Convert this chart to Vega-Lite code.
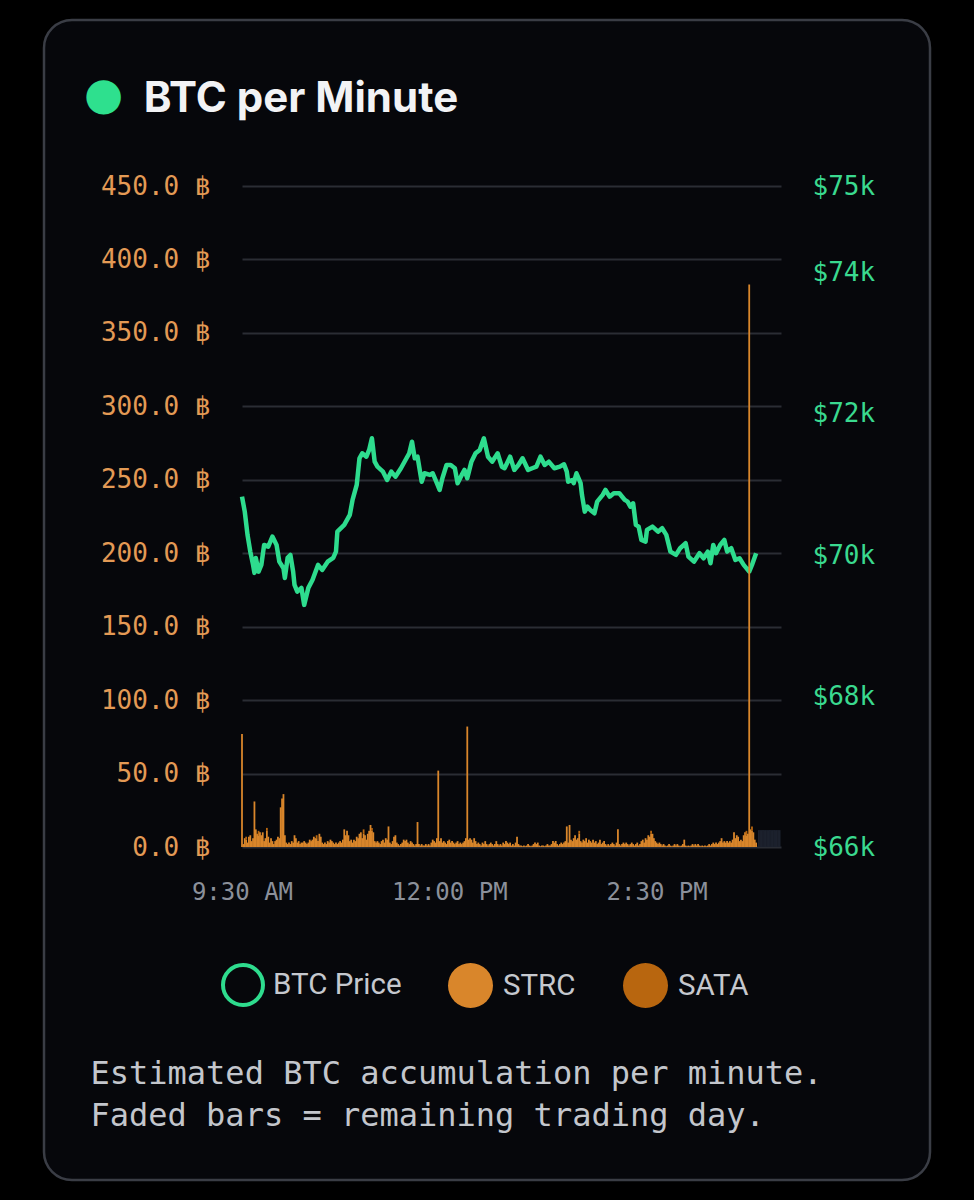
{
  "$schema": "https://vega.github.io/schema/vega-lite/v6.json",
  "width": 886,
  "height": 1160,
  "autosize": {"type": "none"},
  "padding": {"left": 44, "top": 20, "right": 44, "bottom": 20},
  "background": "#000000",
  "title": {
    "text": "●",
    "subtitle": "\u200b\u00a0\u00a0\u00a0\u00a0\u00a0\u00a0BTC per Minute",
    "anchor": "start",
    "frame": "group",
    "offset": -100,
    "dx": 40,
    "font": "DejaVu Sans",
    "fontSize": 45,
    "color": "#2ee08e",
    "subtitleFont": "Inter",
    "subtitleFontSize": 42,
    "subtitleFontWeight": 700,
    "subtitleColor": "#f2f3f5",
    "subtitlePadding": -39
  },
  "datasets": {
    "price": [
      {"m":0,"p":70830},{"m":2,"p":70619},{"m":4,"p":70290},{"m":6,"p":70054},{"m":8,"p":69866},
      {"m":9,"p":69753},{"m":10,"p":69965},{"m":12,"p":69771},{"m":14,"p":69866},{"m":16,"p":70148},
      {"m":19,"p":70124},{"m":22,"p":70266},{"m":25,"p":70148},{"m":27,"p":69912},{"m":30,"p":69819},
      {"m":31,"p":69682},{"m":33,"p":69965},{"m":35,"p":70007},{"m":37,"p":69771},{"m":38,"p":69583},
      {"m":40,"p":69489},{"m":43,"p":69541},{"m":45,"p":69301},{"m":48,"p":69541},{"m":51,"p":69654},
      {"m":55,"p":69866},{"m":58,"p":69795},{"m":62,"p":69912},{"m":66,"p":69965},{"m":68,"p":70054},
      {"m":69,"p":70336},{"m":74,"p":70431},{"m":78,"p":70572},{"m":80,"p":70784},{"m":83,"p":70996},
      {"m":85,"p":71373},{"m":87,"p":71443},{"m":90,"p":71395},{"m":92,"p":71490},{"m":94,"p":71655},
      {"m":96,"p":71325},{"m":98,"p":71254},{"m":102,"p":71184},{"m":105,"p":71066},{"m":108,"p":71184},
      {"m":111,"p":71113},{"m":115,"p":71232},{"m":119,"p":71373},{"m":121,"p":71443},{"m":123,"p":71607},
      {"m":125,"p":71373},{"m":127,"p":71395},{"m":130,"p":71042},{"m":132,"p":71161},{"m":136,"p":71137},
      {"m":138,"p":71161},{"m":141,"p":71020},{"m":143,"p":70925},{"m":145,"p":71090},{"m":148,"p":71278},
      {"m":151,"p":71278},{"m":154,"p":71232},{"m":156,"p":71020},{"m":159,"p":71137},{"m":161,"p":71208},
      {"m":163,"p":71090},{"m":166,"p":71325},{"m":169,"p":71443},{"m":172,"p":71490},{"m":175,"p":71655},
      {"m":178,"p":71395},{"m":181,"p":71325},{"m":185,"p":71443},{"m":188,"p":71254},{"m":190,"p":71232},
      {"m":194,"p":71395},{"m":197,"p":71208},{"m":200,"p":71278},{"m":203,"p":71373},{"m":207,"p":71208},
      {"m":210,"p":71232},{"m":213,"p":71254},{"m":216,"p":71395},{"m":219,"p":71278},{"m":222,"p":71325},
      {"m":226,"p":71232},{"m":230,"p":71254},{"m":233,"p":71288},{"m":235,"p":71184},{"m":236,"p":71042},
      {"m":239,"p":71066},{"m":240,"p":71020},{"m":242,"p":71161},{"m":245,"p":71020},{"m":246,"p":70855},
      {"m":248,"p":70619},{"m":250,"p":70689},{"m":252,"p":70643},{"m":255,"p":70596},{"m":257,"p":70760},
      {"m":261,"p":70855},{"m":263,"p":70925},{"m":266,"p":70830},{"m":269,"p":70878},{"m":273,"p":70878},
      {"m":277,"p":70784},{"m":279,"p":70760},{"m":281,"p":70689},{"m":283,"p":70737},{"m":285,"p":70431},
      {"m":287,"p":70407},{"m":289,"p":70219},{"m":292,"p":70195},{"m":293,"p":70360},{"m":297,"p":70407},
      {"m":301,"p":70336},{"m":304,"p":70384},{"m":307,"p":70290},{"m":310,"p":70054},{"m":314,"p":70007},
      {"m":317,"p":70102},{"m":321,"p":70172},{"m":323,"p":69983},{"m":327,"p":69912},{"m":331,"p":70031},
      {"m":334,"p":69960},{"m":337,"p":70054},{"m":339,"p":69890},{"m":341,"p":70148},{"m":343,"p":70031},
      {"m":346,"p":70148},{"m":349,"p":70219},{"m":351,"p":70054},{"m":354,"p":70102},{"m":357,"p":69936},
      {"m":360,"p":69960},{"m":363,"p":69866},{"m":367,"p":69771},{"m":369,"p":69866},{"m":372,"p":70031}
    ],
    "rest": [
      {"m":374,"v":11.5},{"m":375,"v":11.5},{"m":376,"v":11.5},{"m":377,"v":11.5},{"m":378,"v":11.5},
      {"m":379,"v":11.5},{"m":380,"v":11.5},{"m":381,"v":11.5},{"m":382,"v":11.5},{"m":383,"v":11.5},
      {"m":384,"v":11.5},{"m":385,"v":11.5},{"m":386,"v":11.5},{"m":387,"v":11.5},{"m":388,"v":11.5},
      {"m":389,"v":11.5}
    ],
    "bars": [
      {"m":0,"STRC":77},{"m":1,"STRC":2},{"m":2,"STRC":6},{"m":3,"STRC":5,"SATA":2},{"m":4,"STRC":3},
      {"m":5,"STRC":7},{"m":6,"STRC":8},{"m":7,"STRC":4},{"m":8,"STRC":6},{"m":9,"STRC":31},
      {"m":10,"STRC":12},{"m":11,"STRC":9},{"m":12,"STRC":8,"SATA":3},{"m":13,"STRC":10},{"m":14,"STRC":8},
      {"m":15,"STRC":10},{"m":16,"STRC":4},{"m":17,"STRC":6},{"m":18,"STRC":11,"SATA":2},{"m":19,"STRC":7},
      {"m":20,"STRC":3},{"m":21,"STRC":6},{"m":22,"STRC":4},{"m":23,"STRC":2},{"m":24,"STRC":4},
      {"m":25,"STRC":5},{"m":26,"STRC":7},{"m":27,"STRC":6},{"m":28,"STRC":27},{"m":29,"STRC":33},
      {"m":30,"STRC":36},{"m":31,"STRC":8},{"m":32,"STRC":3},{"m":33,"STRC":2},{"m":34,"STRC":3},
      {"m":35,"STRC":2},{"m":36,"STRC":4},{"m":37,"STRC":3},{"m":38,"STRC":8},{"m":39,"STRC":6},
      {"m":40,"STRC":3},{"m":41,"STRC":4},{"m":42,"STRC":2},{"m":43,"STRC":3},{"m":44,"STRC":3},
      {"m":45,"STRC":4},{"m":46,"STRC":3},{"m":47,"STRC":2},{"m":48,"STRC":3},{"m":49,"STRC":5},
      {"m":50,"STRC":4},{"m":51,"STRC":5},{"m":52,"STRC":7},{"m":53,"STRC":6},{"m":54,"STRC":6,"SATA":2},
      {"m":55,"STRC":4},{"m":56,"STRC":9},{"m":57,"STRC":7},{"m":58,"STRC":3},{"m":59,"STRC":2},
      {"m":60,"STRC":3},{"m":61,"STRC":2},{"m":62,"STRC":4},{"m":63,"STRC":3},{"m":64,"STRC":5},
      {"m":65,"STRC":4},{"m":66,"STRC":3},{"m":67,"STRC":2},{"m":68,"STRC":3},{"m":69,"STRC":2},
      {"m":70,"STRC":3},{"m":71,"STRC":4},{"m":72,"STRC":3},{"m":73,"STRC":5},{"m":74,"STRC":12},
      {"m":75,"STRC":8},{"m":76,"STRC":11},{"m":77,"STRC":8},{"m":78,"STRC":4},{"m":79,"STRC":5},
      {"m":80,"STRC":3},{"m":81,"STRC":5},{"m":82,"STRC":4},{"m":83,"STRC":7},{"m":84,"STRC":6},
      {"m":85,"STRC":9},{"m":86,"STRC":10},{"m":87,"STRC":6},{"m":88,"STRC":9,"SATA":3},{"m":89,"STRC":8},
      {"m":90,"STRC":5},{"m":91,"STRC":9},{"m":92,"STRC":11},{"m":93,"STRC":15},{"m":94,"STRC":11,"SATA":2},
      {"m":95,"STRC":10},{"m":96,"STRC":4},{"m":97,"STRC":3},{"m":98,"STRC":4},{"m":99,"STRC":3},
      {"m":100,"STRC":2},{"m":101,"STRC":4},{"m":102,"STRC":5},{"m":103,"STRC":3},{"m":104,"STRC":6},
      {"m":105,"STRC":5},{"m":106,"STRC":14},{"m":107,"STRC":3},{"m":108,"STRC":2},{"m":109,"STRC":4},
      {"m":110,"STRC":7},{"m":111,"STRC":8},{"m":112,"STRC":3},{"m":113,"STRC":2},{"m":114,"STRC":1},
      {"m":115,"STRC":2},{"m":116,"STRC":3},{"m":117,"STRC":5},{"m":118,"STRC":4},{"m":119,"STRC":5},
      {"m":120,"STRC":3},{"m":121,"STRC":2},{"m":122,"STRC":4},{"m":123,"STRC":3},{"m":124,"STRC":2},
      {"m":125,"STRC":1},{"m":126,"STRC":2},{"m":127,"STRC":17},{"m":128,"STRC":2},{"m":129,"STRC":1},
      {"m":130,"STRC":2},{"m":131,"STRC":1},{"m":132,"STRC":1},{"m":133,"STRC":2},{"m":134,"STRC":1},
      {"m":135,"STRC":2},{"m":136,"STRC":1},{"m":137,"STRC":3},{"m":138,"STRC":5},{"m":139,"STRC":4},
      {"m":140,"STRC":3},{"m":141,"STRC":6},{"m":142,"STRC":52},{"m":143,"STRC":4},{"m":144,"STRC":6},
      {"m":145,"STRC":3},{"m":146,"STRC":4},{"m":147,"STRC":3},{"m":148,"STRC":2},{"m":149,"STRC":4},
      {"m":150,"STRC":5},{"m":151,"STRC":3},{"m":152,"STRC":4},{"m":153,"STRC":3},{"m":154,"STRC":2},
      {"m":155,"STRC":3},{"m":156,"STRC":4},{"m":157,"STRC":2},{"m":158,"STRC":3},{"m":159,"STRC":2},
      {"m":160,"STRC":3},{"m":161,"STRC":4},{"m":162,"STRC":6},{"m":163,"STRC":82},{"m":164,"STRC":5},
      {"m":165,"STRC":6},{"m":166,"STRC":5},{"m":167,"STRC":3},{"m":168,"STRC":6},{"m":169,"STRC":4},
      {"m":170,"STRC":2},{"m":171,"STRC":3},{"m":172,"STRC":2},{"m":173,"STRC":1},{"m":174,"STRC":3},
      {"m":175,"STRC":2},{"m":176,"STRC":4},{"m":177,"STRC":2},{"m":178,"STRC":1},{"m":179,"STRC":2},
      {"m":180,"STRC":3},{"m":181,"STRC":2},{"m":182,"STRC":1},{"m":183,"STRC":2},{"m":184,"STRC":4},
      {"m":185,"STRC":2},{"m":186,"STRC":1},{"m":187,"STRC":2},{"m":188,"STRC":1},{"m":189,"STRC":3},
      {"m":190,"STRC":2},{"m":191,"STRC":4},{"m":192,"STRC":3},{"m":193,"STRC":2},{"m":194,"STRC":3},
      {"m":195,"STRC":1},{"m":196,"STRC":2},{"m":197,"STRC":1},{"m":198,"STRC":3},{"m":199,"STRC":7},
      {"m":200,"STRC":2},{"m":201,"STRC":1},{"m":202,"STRC":1},{"m":203,"STRC":0.5},{"m":204,"STRC":1},
      {"m":205,"STRC":0.5},{"m":206,"STRC":1},{"m":207,"STRC":2},{"m":208,"STRC":1},{"m":209,"STRC":0.5},
      {"m":210,"STRC":1},{"m":211,"STRC":2},{"m":212,"STRC":3},{"m":213,"STRC":2},{"m":214,"STRC":3},
      {"m":215,"STRC":1},{"m":216,"STRC":0.5},{"m":217,"STRC":1},{"m":218,"STRC":1},{"m":219,"STRC":0.5},
      {"m":220,"STRC":1},{"m":221,"STRC":2},{"m":222,"STRC":1},{"m":223,"STRC":1},{"m":224,"STRC":2},
      {"m":225,"STRC":4},{"m":226,"STRC":3},{"m":227,"STRC":4},{"m":228,"STRC":2},{"m":229,"STRC":1},
      {"m":230,"STRC":2},{"m":231,"STRC":3},{"m":232,"STRC":2},{"m":233,"STRC":3},{"m":234,"STRC":4},
      {"m":235,"STRC":14},{"m":236,"STRC":3},{"m":237,"STRC":15},{"m":238,"STRC":5},{"m":239,"STRC":4},
      {"m":240,"STRC":6},{"m":241,"STRC":8},{"m":242,"STRC":5},{"m":243,"STRC":6},{"m":244,"STRC":9,"SATA":2},
      {"m":245,"STRC":4},{"m":246,"STRC":3},{"m":247,"STRC":5},{"m":248,"STRC":4},{"m":249,"STRC":6},
      {"m":250,"STRC":3},{"m":251,"STRC":5},{"m":252,"STRC":4},{"m":253,"STRC":3},{"m":254,"STRC":5},
      {"m":255,"STRC":3},{"m":256,"STRC":4},{"m":257,"STRC":2},{"m":258,"STRC":3},{"m":259,"STRC":5},
      {"m":260,"STRC":2},{"m":261,"STRC":3},{"m":262,"STRC":4},{"m":263,"STRC":2},{"m":264,"STRC":1},
      {"m":265,"STRC":2},{"m":266,"STRC":1},{"m":267,"STRC":2},{"m":268,"STRC":3},{"m":269,"STRC":2},
      {"m":270,"STRC":1},{"m":271,"STRC":3},{"m":272,"STRC":12},{"m":273,"STRC":2},{"m":274,"STRC":1},
      {"m":275,"STRC":2},{"m":276,"STRC":3},{"m":277,"STRC":2},{"m":278,"STRC":3},{"m":279,"STRC":2},
      {"m":280,"STRC":1},{"m":281,"STRC":2},{"m":282,"STRC":3},{"m":283,"STRC":2},{"m":284,"STRC":1},
      {"m":285,"STRC":2},{"m":286,"STRC":3},{"m":287,"STRC":1},{"m":288,"STRC":2},{"m":289,"STRC":4},
      {"m":290,"STRC":5},{"m":291,"STRC":3},{"m":292,"STRC":6},{"m":293,"STRC":5},{"m":294,"STRC":8},
      {"m":295,"STRC":7},{"m":296,"STRC":9,"SATA":2},{"m":297,"STRC":9},{"m":298,"STRC":6},{"m":299,"STRC":4},
      {"m":300,"STRC":3},{"m":301,"STRC":2},{"m":302,"STRC":3},{"m":303,"STRC":2},{"m":304,"STRC":1},
      {"m":305,"STRC":2},{"m":306,"STRC":1},{"m":307,"STRC":0.5},{"m":308,"STRC":1},{"m":309,"STRC":2},
      {"m":310,"STRC":1},{"m":311,"STRC":0.5},{"m":312,"STRC":1},{"m":313,"STRC":2},{"m":314,"STRC":1},
      {"m":315,"STRC":2},{"m":316,"STRC":1},{"m":317,"STRC":0.5},{"m":318,"STRC":1},{"m":319,"STRC":2},
      {"m":320,"STRC":5},{"m":321,"STRC":1},{"m":322,"STRC":0.5},{"m":323,"STRC":1},{"m":324,"STRC":0.5},
      {"m":325,"STRC":1},{"m":326,"STRC":2},{"m":327,"STRC":1},{"m":328,"STRC":2},{"m":329,"STRC":1},
      {"m":330,"STRC":2},{"m":331,"STRC":1},{"m":332,"STRC":0.5},{"m":333,"STRC":1},{"m":334,"STRC":0.5},
      {"m":335,"STRC":1},{"m":336,"STRC":0.5},{"m":337,"STRC":1},{"m":338,"STRC":2},{"m":339,"STRC":1},
      {"m":340,"STRC":2},{"m":341,"STRC":3},{"m":342,"STRC":2},{"m":343,"STRC":3},{"m":344,"STRC":2},
      {"m":345,"STRC":3},{"m":346,"STRC":4},{"m":347,"STRC":6},{"m":348,"STRC":3},{"m":349,"STRC":4},
      {"m":350,"STRC":3},{"m":351,"STRC":4},{"m":352,"STRC":3},{"m":353,"STRC":4},{"m":354,"STRC":3},
      {"m":355,"STRC":5},{"m":356,"STRC":10},{"m":357,"STRC":6},{"m":358,"STRC":8},{"m":359,"STRC":7},
      {"m":360,"STRC":4},{"m":361,"STRC":5},{"m":362,"STRC":4},{"m":363,"STRC":8},{"m":364,"STRC":10},
      {"m":365,"STRC":8,"SATA":3},{"m":366,"STRC":9},{"m":367,"STRC":383},{"m":368,"STRC":12},{"m":369,"STRC":11,"SATA":3},
      {"m":370,"STRC":10},{"m":371,"STRC":5},{"m":372,"STRC":3}
    ]
  },
  "layer": [
    {
      "data": {"name": "price"},
      "mark": {"type": "line", "strokeWidth": 4.5, "strokeJoin": "round"},
      "encoding": {
        "x": {
          "field": "m",
          "type": "quantitative",
          "scale": {"domain": [0, 390], "range": [198, 737], "padding": 0, "nice": false, "zero": false},
          "axis": {
            "orient": "bottom",
            "offset": -333,
            "values": [0, 150, 300],
            "labelExpr": "timeFormat(datetime(2024, 0, 1, 9, 30 + datum.value), '%-I:%M %p')",
            "labelFont": "DejaVu Sans Mono",
            "labelFontSize": 24,
            "labelColor": "#8b909a",
            "labelPadding": 33,
            "labelFlush": false,
            "ticks": false,
            "domain": false,
            "grid": false,
            "title": ["Estimated BTC accumulation per minute.", "Faded bars = remaining trading day."],
            "titleFont": "DejaVu Sans Mono",
            "titleFontSize": 32,
            "titleFontWeight": "normal",
            "titleColor": "#c3c6cc",
            "titleAlign": "left",
            "titleAnchor": "start",
            "titleX": 46,
            "titleY": 236,
            "titleBaseline": "alphabetic",
            "titleLineHeight": 42
          }
        },
        "y": {
          "field": "p",
          "type": "quantitative",
          "scale": {"domain": [65880, 75220], "range": [827, 166], "zero": false, "nice": false},
          "axis": {
            "orient": "right",
            "offset": -128,
            "values": [65880, 68000, 70000, 72000, 74000, 75220],
            "labelExpr": "'$' + format(datum.value / 1000, '.0f') + 'k'",
            "labelFont": "DejaVu Sans Mono",
            "labelFontSize": 26,
            "labelColor": "#3ad98f",
            "labelPadding": 10,
            "ticks": false,
            "domain": false,
            "grid": false,
            "title": null
          }
        },
        "stroke": {
          "datum": "BTC Price",
          "type": "nominal",
          "scale": {"domain": ["BTC Price"], "range": ["#2edc8e"]},
          "legend": {
            "orient": "none",
            "legendX": 177,
            "legendY": 943,
            "title": null,
            "symbolType": "circle",
            "symbolSize": 1600,
            "symbolStrokeWidth": 4,
            "symbolFillColor": "transparent",
            "labelFont": "Roboto",
            "labelFontSize": 29.5,
            "labelColor": "#c5c8ce",
            "labelOffset": 8
          }
        }
      }
    },
    {
      "data": {"name": "rest"},
      "mark": {"type": "bar", "size": 1.8, "color": "#1c212d"},
      "encoding": {
        "x": {"field": "m", "type": "quantitative"},
        "y": {
          "field": "v",
          "type": "quantitative",
          "scale": {"domain": [0, 450], "range": [827, 166], "nice": false},
          "axis": null
        }
      }
    },
    {
      "data": {"name": "bars"},
      "transform": [
        {"fold": ["STRC", "SATA"], "as": ["series", "v"]},
        {"filter": "datum.v > 0"}
      ],
      "mark": {"type": "bar", "size": 1.8},
      "encoding": {
        "x": {"field": "m", "type": "quantitative"},
        "y": {
          "field": "v",
          "type": "quantitative",
          "stack": "zero",
          "scale": {"domain": [0, 450], "range": [827, 166], "nice": false},
          "axis": {
            "orient": "left",
            "offset": -176,
            "values": [0, 50, 100, 150, 200, 250, 300, 350, 400, 450],
            "labelExpr": "format(datum.value, '.1f') + ' ฿'",
            "labelFont": "DejaVu Sans Mono",
            "labelFontSize": 26,
            "labelColor": "#e39a55",
            "labelPadding": 10,
            "ticks": false,
            "domain": false,
            "grid": true,
            "gridColor": "#2a2d34",
            "gridWidth": 2,
            "title": null
          }
        },
        "color": {
          "field": "series",
          "type": "nominal",
          "scale": {"domain": ["STRC", "SATA"], "range": ["#d9862b", "#b8660f"]},
          "legend": {
            "orient": "none",
            "legendX": 403,
            "legendY": 942,
            "direction": "horizontal",
            "title": null,
            "symbolType": "circle",
            "symbolSize": 2025,
            "labelFont": "Roboto",
            "labelFontSize": 29.5,
            "labelColor": "#c5c8ce",
            "labelOffset": 9,
            "columnPadding": 46
          }
        }
      }
    }
  ],
  "resolve": {"scale": {"y": "independent"}},
  "config": {
    "view": {"fill": "#06070b", "stroke": "#3a3d45", "strokeWidth": 2.5, "cornerRadius": 28}
  }
}
